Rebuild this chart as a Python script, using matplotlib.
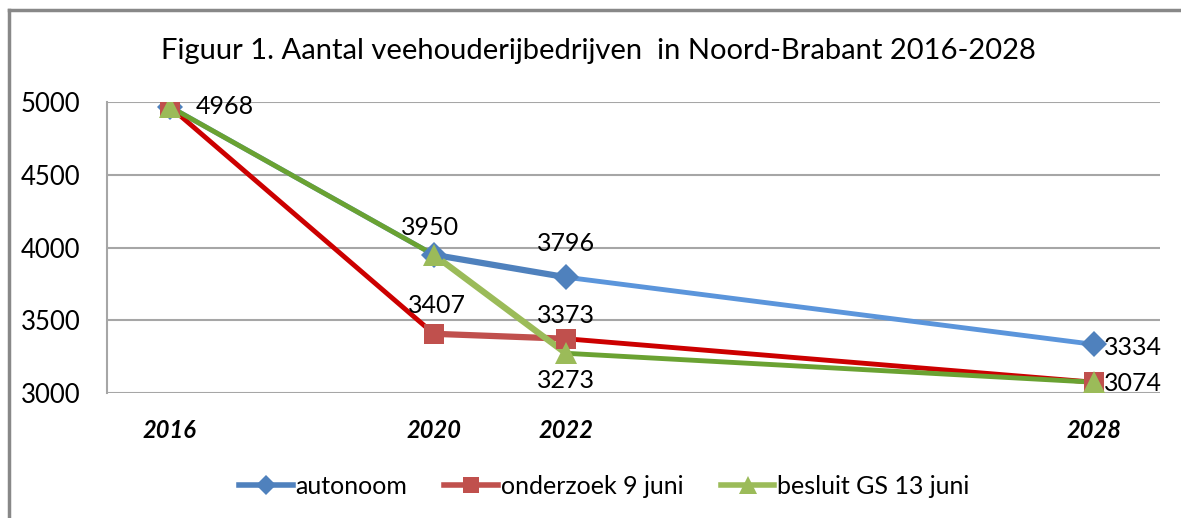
import matplotlib.pyplot as plt
from matplotlib.lines import Line2D

plt.rcParams['font.family'] = ['Lato', 'DejaVu Sans']

# Data
years = ['2016', '2020', '2022', '2028']
slots = [0, 4, 6, 14]          # category slots on the Excel axis
autonoom = [4968, 3950, 3796, 3334]
onderzoek = [4968, 3407, 3373, 3074]
besluit = [4968, 3950, 3273, 3074]
series_names = ['autonoom', 'onderzoek 9 juni', 'besluit GS 13 juni']

# Excel base colours and the overdrawn line colours
base_colors = ['#4F81BD', '#C0504D', '#9BBB59']
over_colors = ['#5B95DB', '#CC0000', '#6AA232']
markers = ['D', 's', '^']
msizes = [13, 15, 16]

fig = plt.figure(figsize=(11.81, 5.18), dpi=100)
ax = fig.add_axes([107 / 1181, 1 - 393 / 518, (1160 - 107) / 1181, (393 - 102) / 518])

# outer chart border (top and left visible)
fig.add_artist(Line2D([9 / 1181, 9 / 1181], [0, 1 - 10 / 518], transform=fig.transFigure,
                      color='#888888', lw=2.5))
fig.add_artist(Line2D([9 / 1181, 1], [1 - 10 / 518, 1 - 10 / 518], transform=fig.transFigure,
                      color='#888888', lw=2.5))

all_series = [autonoom, onderzoek, besluit]
for vals, bc, oc, mk, ms in zip(all_series, base_colors, over_colors, markers, msizes):
    # middle segment in Excel colour, outer segments overdrawn
    ax.plot(slots[1:3], vals[1:3], color=bc, lw=4.5, zorder=3, solid_capstyle='round')
    ax.plot(slots[:2], vals[:2], color=oc, lw=3.5, zorder=4, solid_capstyle='round')
    ax.plot(slots[2:], vals[2:], color=oc, lw=3.5, zorder=4, solid_capstyle='round')
    ax.plot(slots, vals, linestyle='none', marker=mk, markersize=ms, color=bc,
            markeredgewidth=0, zorder=5)

lab = dict(fontsize=18, color='black', zorder=6)
ax.text(slots[0] + 0.4, autonoom[0], '4968', ha='left', va='center', **lab)
ax.text(slots[1] - 0.05, autonoom[1] + 105, '3950', ha='center', va='bottom', **lab)
ax.text(slots[2], autonoom[2] + 150, '3796', ha='center', va='bottom', **lab)
ax.text(slots[3] + 0.15, autonoom[3] - 20, '3334', ha='left', va='center', **lab)
ax.text(slots[1] + 0.05, onderzoek[1] + 115, '3407', ha='center', va='bottom', **lab)
ax.text(slots[2], onderzoek[2] + 80, '3373', ha='center', va='bottom', **lab)
ax.text(slots[3] + 0.15, onderzoek[3] - 10, '3074', ha='left', va='center', **lab)
ax.text(slots[2], besluit[2] - 110, '3273', ha='center', va='top', **lab)

ax.set_xlim(-0.95, 15.0)
ax.set_ylim(3000, 5000)
ax.set_yticks([3000, 3500, 4000, 4500, 5000])
ax.set_xticks(slots)
ax.set_xticklabels(years, fontsize=17, fontweight='bold', fontstyle='italic')
ax.tick_params(axis='x', length=0, pad=19)
ax.tick_params(axis='y', length=0, pad=19, labelsize=18.5)
ax.grid(axis='y', color='#A6A6A6', lw=1.5)
ax.set_axisbelow(True)
for s in ['top', 'right', 'bottom']:
    ax.spines[s].set_visible(False)
ax.spines['left'].set_color('#A6A6A6')
ax.spines['left'].set_linewidth(1.5)

fig.text(598 / 1181, 1 - 51 / 518, 'Figuur 1. Aantal veehouderijbedrijven  in Noord-Brabant 2016-2028',
         ha='center', va='center', fontsize=21)

handles = [Line2D([], [], color=bc, lw=4, marker=mk, markersize=ms * 0.8, markeredgewidth=0)
           for bc, mk, ms in zip(base_colors, markers, msizes)]
fig.legend(handles, series_names, loc='center', bbox_to_anchor=(604 / 1181, 1 - 486 / 518),
           ncol=3, frameon=False, fontsize=18, handlelength=2.15, handletextpad=0.1,
           columnspacing=1.5)

fig.savefig('out.png', dpi=100)
